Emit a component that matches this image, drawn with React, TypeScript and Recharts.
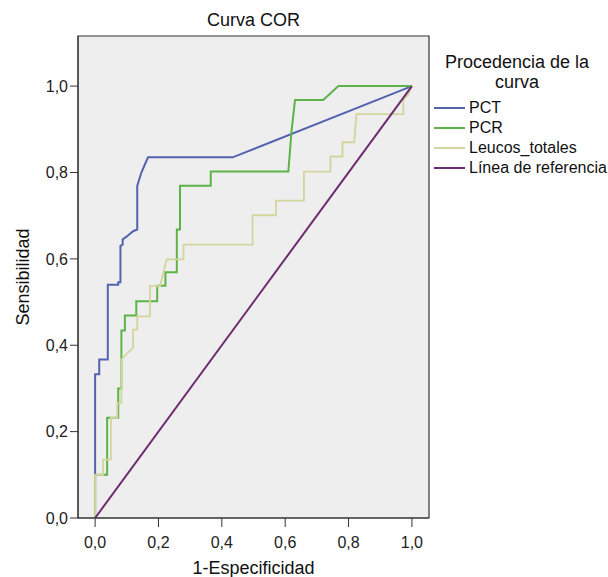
import { LineChart, Line, XAxis, YAxis, ReferenceArea } from 'recharts';

// ROC points as [1-especificidad, sensibilidad]
const pctPoints: [number, number][] = [
  [0, 0], [0, 0.333], [0.013, 0.333], [0.013, 0.367], [0.04, 0.367], [0.04, 0.54],
  [0.073, 0.54], [0.073, 0.546], [0.08, 0.546], [0.08, 0.63], [0.087, 0.633], [0.087, 0.645],
  [0.1, 0.652], [0.12, 0.664], [0.133, 0.668], [0.133, 0.769], [0.146, 0.8], [0.155, 0.815],
  [0.167, 0.835], [0.434, 0.835], [1, 1],
];

const pcrPoints: [number, number][] = [
  [0, 0], [0, 0.1], [0.038, 0.1], [0.038, 0.232], [0.073, 0.232], [0.073, 0.3],
  [0.083, 0.3], [0.083, 0.434], [0.094, 0.434], [0.094, 0.469], [0.13, 0.469], [0.13, 0.502],
  [0.196, 0.502], [0.196, 0.538], [0.222, 0.538], [0.222, 0.569], [0.258, 0.569], [0.258, 0.668],
  [0.268, 0.668], [0.268, 0.769], [0.365, 0.769], [0.365, 0.802], [0.61, 0.802], [0.62, 0.895],
  [0.631, 0.968], [0.72, 0.968], [0.768, 1], [1, 1],
];

const leucosPoints: [number, number][] = [
  [0, 0], [0, 0.1], [0.025, 0.1], [0.025, 0.135], [0.05, 0.135], [0.05, 0.232],
  [0.07, 0.232], [0.07, 0.266], [0.083, 0.266], [0.083, 0.367], [0.1, 0.38], [0.12, 0.395],
  [0.12, 0.436], [0.133, 0.436], [0.133, 0.467], [0.173, 0.467], [0.173, 0.537], [0.205, 0.537],
  [0.226, 0.599], [0.279, 0.599], [0.279, 0.633], [0.497, 0.633], [0.497, 0.701], [0.571, 0.701],
  [0.571, 0.735], [0.659, 0.735], [0.659, 0.802], [0.743, 0.802], [0.743, 0.837], [0.781, 0.837],
  [0.781, 0.87], [0.818, 0.87], [0.825, 0.935], [0.973, 0.935], [0.973, 0.968], [0.988, 0.98],
  [1, 1],
];

const refPoints: [number, number][] = [[0, 0], [1, 1]];

const tickValues = [0, 0.2, 0.4, 0.6, 0.8, 1];

const series = [
  { name: 'PCT', points: pctPoints, color: '#5463b0', width: 2 },
  { name: 'PCR', points: pcrPoints, color: '#5cb448', width: 2 },
  { name: 'Leucos_totales', points: leucosPoints, color: '#d3d59c', width: 1.8 },
  { name: 'Línea de referencia', points: refPoints, color: '#6e2c70', width: 2 },
];

const fmt = (v: number) => v.toFixed(1).replace('.', ',');
const font = '"Liberation Sans", Arial, sans-serif';
const tickStyle = { fontSize: 16, fill: '#222', fontFamily: font };

function LegendBox() {
  return (
    <div style={{ position: 'absolute', left: 434, top: 52, width: 174, fontFamily: font, color: '#111' }}>
      <div style={{ fontSize: 18, lineHeight: '20px', textAlign: 'center', width: 166 }}>
        Procedencia de la<br />curva
      </div>
      <div style={{ marginTop: 6 }}>
        {series.map((s) => (
          <div key={s.name} style={{ display: 'flex', alignItems: 'center', height: 20, fontSize: 16 }}>
            <span style={{ display: 'inline-block', width: 31, height: 2, background: s.color, marginRight: 4 }} />
            {s.name}
          </div>
        ))}
      </div>
    </div>
  );
}

export default function App() {
  return (
    <div style={{ position: 'absolute', left: 0, top: 0, width: 608, height: 577, background: '#fff' }}>
      <div
        style={{
          position: 'absolute', left: 78, top: 9, width: 351, textAlign: 'center',
          fontFamily: font, fontSize: 18, lineHeight: '22px', color: '#111',
        }}
      >
        Curva COR
      </div>
      <LineChart width={608} height={577} margin={{ top: 36, right: 179, left: 0, bottom: 0 }}>
        <XAxis
          type="number"
          dataKey="x"
          domain={[-0.054, 1.054]}
          ticks={tickValues}
          tickFormatter={fmt}
          allowDataOverflow
          height={59}
          tickSize={9}
          tickMargin={10}
          tick={tickStyle}
          stroke="#333"
          label={{ value: '1-Especificidad', position: 'insideBottom', offset: 3, fontSize: 18, fill: '#111', fontFamily: font }}
        />
        <YAxis
          type="number"
          dataKey="y"
          domain={[0, 1.116]}
          ticks={tickValues}
          tickFormatter={fmt}
          allowDataOverflow
          width={78}
          tickSize={8}
          tickMargin={2}
          tick={tickStyle}
          stroke="#333"
          label={{ value: 'Sensibilidad', position: 'center', angle: -90, dx: -16, fontSize: 18, fill: '#111', fontFamily: font }}
        />
        <ReferenceArea x1={-0.054} x2={1.054} y1={0} y2={1.116} fill="#eeeeee" fillOpacity={1} stroke="#333" strokeWidth={1.2} />
        {series.map((s) => (
          <Line
            key={s.name}
            data={s.points.map(([x, y]) => ({ x, y }))}
            dataKey="y"
            name={s.name}
            type="linear"
            stroke={s.color}
            strokeWidth={s.width}
            dot={false}
            activeDot={false}
            isAnimationActive={false}
          />
        ))}
      </LineChart>
      <LegendBox />
    </div>
  );
}
